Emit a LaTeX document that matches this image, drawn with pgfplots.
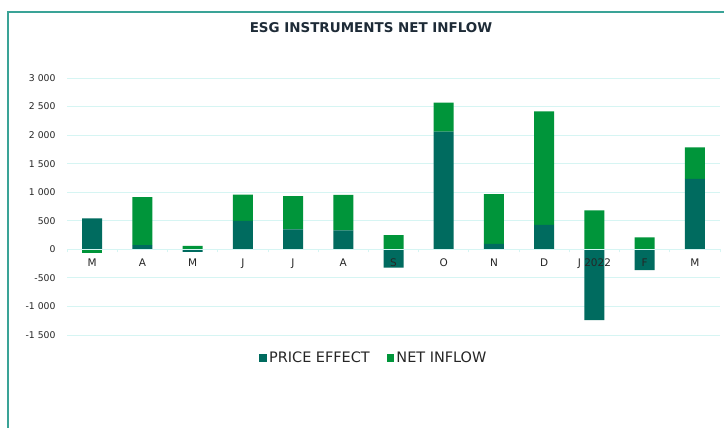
\documentclass[border=0pt]{standalone}
\usepackage{pgfplots}
\usepackage{pgfplotstable}
\pgfplotsset{compat=1.18}
\usepackage{fontspec}
\setmainfont{DejaVu Sans}
\definecolor{pe}{HTML}{006B5F}
\definecolor{ni}{HTML}{00953A}
\definecolor{gridc}{HTML}{D6F5F3}
\definecolor{framec}{HTML}{3AA397}
\definecolor{titlec}{HTML}{1E2B37}

% positive parts (stacked upward from 0)
\pgfplotstableread{
x pe ni
0 540 0
1 75 840
2 0 60
3 500 460
4 350 580
5 332 620
6 0 250
7 2060 510
8 95 870
9 430 1985
10 0 680
11 0 210
12 1235 550
}\postable
% negative parts (stacked downward from 0)
\pgfplotstableread{
x pe ni
0 0 -60
1 0 0
2 -45 0
3 0 0
4 0 0
5 0 0
6 -320 0
7 0 0
8 0 0
9 0 0
10 -1240 0
11 -365 0
12 0 0
}\negtable

\pgfplotsset{base/.style={
  scale only axis, width=653bp, height=257bp,
  at={(67bp,93bp)}, anchor=south west,
  xmin=-0.5, xmax=12.5, ymin=-1500, ymax=3000,
  ybar stacked, bar width=20bp, clip=false}}

\begin{document}
\begin{tikzpicture}
\useasboundingbox (0,0) rectangle (724bp,428bp);
\fill[white] (0,0) rectangle (724bp,428bp);
\draw[framec, line width=1.3bp] (8bp,-5bp) -- (8bp,416bp) -- (735bp,416bp);
\node[font=\fontsize{13.5}{15}\selectfont\bfseries, text=titlec] at (371bp,400.7bp) {ESG INSTRUMENTS NET INFLOW};

\begin{axis}[base,
  axis line style={draw=none},
  xtick=\empty,
  ytick={-1500,-1000,...,3000},
  yticklabels={-1 500,-1 000,-500,0,500,1 000,1 500,2 000,2 500,3 000},
  ymajorgrids, grid style={gridc, line width=0.8bp},
  major tick length=0pt,
  yticklabel style={font=\fontsize{9.3}{10}\selectfont, text=black!85, xshift=-8bp},
  legend style={at={(0.470,-0.0907)}, anchor=center, draw=none, fill=none,
    legend columns=2, font=\fontsize{14.5}{16}\selectfont, text=black!85,
    nodes={inner xsep=2bp, inner ysep=0bp},
    /tikz/every even column/.append style={column sep=15bp}},
  ]
\addplot[fill=pe, draw=none,
  legend image code/.code={\fill[pe] (0bp,-3.9bp) rectangle (7.7bp,3.9bp);}]
  table[x=x, y=pe] {\postable};
\addlegendentry{PRICE EFFECT}
\addplot[fill=ni, draw=none,
  legend image code/.code={\fill[ni] (0bp,-3.9bp) rectangle (7.7bp,3.9bp);}]
  table[x=x, y=ni] {\postable};
\addlegendentry{NET INFLOW}
\end{axis}

\begin{axis}[base,
  axis on top,
  axis x line=middle, axis y line=none,
  x axis line style={-, draw=gridc, line width=0.8bp},
  xtick={0,...,12},
  xticklabels={M,A,M,J,J,A,S,O,N,D,J 2022,F,M},
  minor xtick={-0.5,0.5,...,12.5},
  ytick=\empty,
  major tick length=0pt, minor tick length=3bp, tick align=outside,
  minor tick style={gridc, line width=0.8bp},
  xticklabel style={font=\fontsize{10.5}{12}\selectfont, text=black!85, anchor=north, yshift=-6bp},
  ]
\addplot[fill=pe, draw=none] table[x=x, y=pe] {\negtable};
\addplot[fill=ni, draw=none] table[x=x, y=ni] {\negtable};
\end{axis}
\end{tikzpicture}
\end{document}
